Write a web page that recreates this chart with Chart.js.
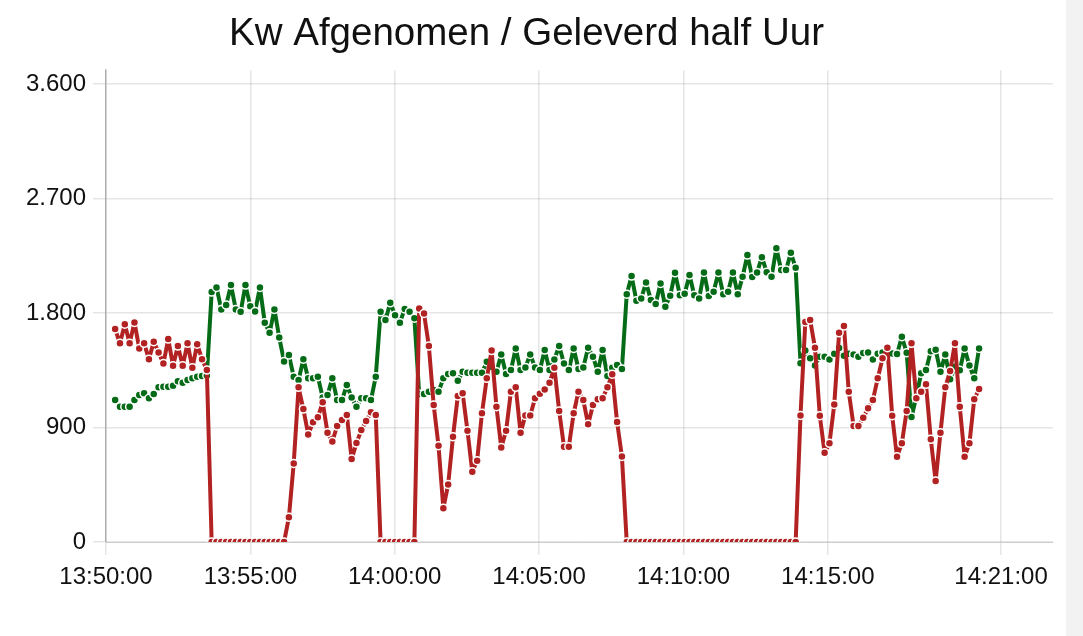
<!DOCTYPE html>
<html>
<head>
<meta charset="utf-8">
<title>Kw half uur</title>
<script src="https://cdn.jsdelivr.net/npm/chart.js@4.4.1/dist/chart.umd.min.js"></script>
<style>
    html, body { margin: 0; padding: 0; background: #f2f2f2; }
    #wrap { width: 1066px; height: 636px; background: #fff; }
</style>
</head>
<body>
<div id="wrap"><canvas id="kwChart"></canvas></div>
<script>
// readings every ~10 s, starting 13:50:19
const startSec = 19;      // seconds after 13:50:00
const stepSec = 10.03;

// Afgenomen (red)
const afgenomen = [
    1674, 1562, 1713, 1562, 1727, 1522, 1562, 1438, 1575, 1491, 1404, 1596, 1386, 1541, 1386, 1562, 1370, 1555, 1438, 1352,
    0, 0, 0, 0, 0, 0, 0, 0, 0, 0, 0, 0, 0, 0, 0, 0,
    194, 618, 1216, 1045, 846, 941, 980, 1098, 859, 791, 912, 960, 998, 652, 778, 880, 951, 1020, 998,
    0, 0, 0, 0, 0, 0, 0, 0,
    1837, 1797, 1541, 1077, 757, 265, 453, 828, 1148, 1169, 875, 553, 639, 1012, 1287, 1505, 1064, 743, 875, 1181,
    1216, 859, 995, 995, 1130, 1166, 1200, 1252, 1370, 1030, 749, 749, 1012, 1181, 1116, 925, 1077, 1122, 1130, 1216,
    1320, 944, 673,
    0, 0, 0, 0, 0, 0, 0, 0, 0, 0, 0, 0, 0, 0, 0, 0, 0, 0, 0, 0, 0, 0, 0, 0, 0, 0, 0, 0, 0, 0, 0, 0, 0, 0, 0, 0,
    995, 1730, 1745, 1528, 993, 702, 776, 1082, 1645, 1698, 1181, 912, 912, 977, 1051, 1116, 1287, 1444, 1528, 993,
    671, 776, 1030, 1562, 1130, 1181, 1240, 807, 479, 859, 1216, 1344, 1562, 1064, 671, 776, 1122, 1203
];

// Geleverd (green)
const geleverd = [
    1116, 1064, 1064, 1064, 1116, 1155, 1169, 1130, 1163, 1216, 1221, 1221, 1229, 1265, 1252, 1273, 1287, 1300, 1305, 1310,
    1965, 2002, 1829, 1863, 2020, 1829, 1810, 2020, 1853, 1813, 2002, 1725, 1645, 1829, 1608, 1420,
    1470, 1300, 1273, 1438, 1287, 1287, 1300, 1137, 1155, 1287, 1116, 1116, 1234, 1137, 1064, 1130, 1130, 1116, 1300, 1810,
    1745, 1881, 1784, 1725, 1833, 1810, 1760,
    1163, 1163, 1181, 1195, 1181, 1287, 1321, 1326, 1268, 1339, 1331, 1331, 1331, 1331, 1417, 1378, 1339, 1475, 1321, 1352,
    1522, 1352, 1373, 1475, 1373, 1352, 1509, 1352, 1436, 1541, 1404, 1352, 1522, 1360, 1373, 1528, 1457, 1339, 1509, 1305,
    1370, 1391, 1360,
    1949, 2091, 1897, 1915, 2040, 1902, 1871, 2033, 1850, 1936, 2117, 1941, 1952, 2099, 1940, 1915, 2120, 1934, 1968, 2120,
    1949, 1968, 2120, 1949, 2086, 2256, 2083, 2120, 2240, 2122, 2086, 2309, 2138, 2138, 2274, 2156,
    1406, 1506, 1444, 1387, 1457, 1457, 1436, 1480, 1525, 1465, 1480, 1475, 1457, 1487, 1491, 1436, 1480, 1491, 1522, 1483,
    1478, 1614, 1488, 982, 1142, 1326, 1352, 1500, 1512, 1339, 1474, 1279, 1378, 1350, 1522, 1387, 1287, 1522
];

// tick labels (seconds after 13:50:00)
const xTicks = [0, 300, 600, 900, 1200, 1500, 1860];
const yTicks = [0, 900, 1800, 2700, 3600];

function toPoints(values) {
    return values.map((v, i) => ({ x: startSec + i * stepSec, y: v }));
}

function fmtTime(sec) {
    const total = 13 * 3600 + 50 * 60 + Math.round(sec);
    const h = Math.floor(total / 3600);
    const m = Math.floor((total % 3600) / 60);
    const s = total % 60;
    return [h, m, s].map(n => String(n).padStart(2, '0')).join(':');
}

function fmtKw(v) {
    return String(v).replace(/\B(?=(\d{3})+(?!\d))/g, '.');
}

Chart.defaults.font.family = '"Liberation Sans", Arial, Helvetica, sans-serif';
Chart.defaults.color = '#111';

const pointStyle = {
    borderWidth: 4,
    borderJoinStyle: 'round',
    pointRadius: 4,
    pointBorderWidth: 1.5,
    pointBorderColor: '#fff',
    tension: 0
};

const ctx = document.getElementById('kwChart');
new Chart(ctx, {
    type: 'line',
    data: {
        datasets: [{
            label: 'Afgenomen',
            data: toPoints(afgenomen),
            borderColor: '#b22222',
            pointBackgroundColor: '#b22222',
            ...pointStyle
        }, {
            label: 'Geleverd',
            data: toPoints(geleverd),
            borderColor: '#056b16',
            pointBackgroundColor: '#056b16',
            ...pointStyle
        }]
    },
    options: {
        responsive: true,
        maintainAspectRatio: false,
        animation: false,
        layout: { padding: { left: 0, right: 13, top: 0, bottom: 0 } },
        plugins: {
            legend: { display: false },
            tooltip: { enabled: false },
            title: {
                display: true,
                text: 'Kw Afgenomen / Geleverd half Uur',
                color: '#111',
                font: { size: 38.5, weight: 'normal' },
                padding: { top: 11, bottom: 13 }
            }
        },
        scales: {
            x: {
                type: 'linear',
                min: 0,
                max: 1968,
                afterBuildTicks: scale => { scale.ticks = xTicks.map(v => ({ value: v })); },
                afterFit: scale => { scale.height = 94; },
                ticks: {
                    callback: v => fmtTime(v),
                    font: { size: 24 },
                    padding: 8,
                    maxRotation: 0
                },
                grid: { color: 'rgba(0,0,0,0.1)', lineWidth: 1.5, tickLength: 13 },
                border: { color: 'rgba(0,0,0,0.15)' }
            },
            y: {
                min: 0,
                max: 3710,
                afterBuildTicks: scale => { scale.ticks = yTicks.map(v => ({ value: v })); },
                afterFit: scale => { scale.width = 106; },
                ticks: {
                    callback: v => fmtKw(v),
                    font: { size: 24 },
                    padding: 7
                },
                grid: { color: 'rgba(0,0,0,0.1)', lineWidth: 1.5, tickLength: 13 },
                border: { color: 'rgba(0,0,0,0.25)', width: 1.5 }
            }
        }
    }
});
</script>
</body>
</html>
